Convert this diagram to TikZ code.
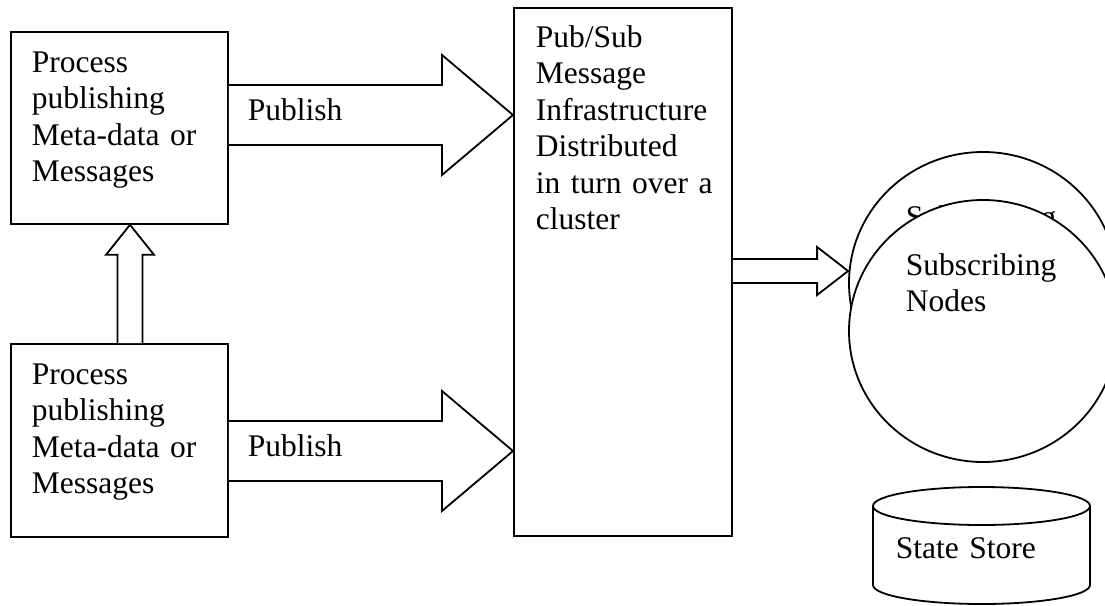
\documentclass[tikz,border=0pt]{standalone}
\usepackage{fontspec}
\setmainfont{Liberation Serif}
\usetikzlibrary{calc,shapes.geometric}

% horizontal block arrow: tail point, tip point, shaft half-width, head half-width, head length
\newcommand\blockarrowh[5]{%
  \draw[arrowline] ($(#1)+(0,-#3)$) -- ($(#2)+(-#5,-#3)$) -- ($(#2)+(-#5,-#4)$) -- (#2)
    -- ($(#2)+(-#5,#4)$) -- ($(#2)+(-#5,#3)$) -- ($(#1)+(0,#3)$);}

\begin{document}
\begin{tikzpicture}[x=1pt,y=-1pt,
  line width=1.8pt,
  box/.style={draw, rectangle, inner sep=0pt, anchor=north west},
  txt/.style={font=\fontsize{31.5}{36.5}\selectfont, inner sep=0pt, anchor=base west,
              text width=#1, align=left},
  txt/.default=200pt,
  arrowline/.style={draw, line join=miter, fill=white},
  disc/.style={draw, fill=white, ellipse, inner sep=0pt,
               minimum width=268pt, minimum height=262pt}]

\useasboundingbox (0,0) rectangle (1105,605);
\fill[white] (0,0) rectangle (1105,605);
\clip (0,0) rectangle (1105,605);

% publishers
\node[box, minimum width=217pt, minimum height=192pt] (pubA) at (10,31) {};
\node[txt=190pt] (pubAtext) at (31,72) {Process\\publishing\\Meta-data or\\Messages};
\node[box, minimum width=217pt, minimum height=193pt] (pubB) at (10,343) {};
\node[txt=190pt] (pubBtext) at (31,384) {Process\\publishing\\Meta-data or\\Messages};

% messaging infrastructure
\node[box, minimum width=218pt, minimum height=528pt] (hub) at (513,7) {};
\node[txt=195pt] (hubtext) at (535,47)
  {Pub/Sub\\Message\\Infrastructure\\Distributed\\in turn over a\\cluster};

% subscribers
\node[disc] (subback) at (983,283) {};
\node[txt=190pt] (subbacktext) at (905,227) {Subscribing\\Nodes};
\node[disc] (subfront) at (983,331) {};
\node[txt=190pt] (subfronttext) at (905,275) {Subscribing\\Nodes};

% state store cylinder
\node[inner sep=0pt, minimum width=217pt, minimum height=118pt, anchor=north west] (store) at (873,487) {};
\draw (store.north west) ++(0,19) -- (873,585)
  arc[start angle=180, end angle=0, x radius=108.5, y radius=19] -- (1090,506);
\draw (981.5,506) ellipse[x radius=108.5, y radius=19];
\node[txt] (storetext) at (895,558) {State Store};

% publish arrows into the infrastructure
\coordinate (tailA) at (pubA.east |- 0,115);
\coordinate (tipA) at (hub.west |- tailA);
\blockarrowh{tailA}{tipA}{30}{60}{71}
\node[txt] (publishA) at (247,120) {Publish};

\coordinate (tailB) at (pubB.east |- 0,451);
\coordinate (tipB) at (hub.west |- tailB);
\blockarrowh{tailB}{tipB}{30}{60}{71}
\node[txt] (publishB) at (247,456) {Publish};

% delivery arrow to subscribers
\coordinate (tailS) at (hub.east |- 0,271);
\coordinate (tipS) at (subback.west |- tailS);
\blockarrowh{tailS}{tipS}{12}{24}{31}

% upward arrow between the publishers
\coordinate (tailU) at (pubB.north -| 130,0);
\coordinate (tipU) at (pubA.south -| 130,0);
\draw[arrowline] ($(tailU)+(-12.5,0)$) -- ($(tipU)+(-12.5,30)$) -- ($(tipU)+(-24,30)$) -- (tipU)
  -- ($(tipU)+(24,30)$) -- ($(tipU)+(12.5,30)$) -- ($(tailU)+(12.5,0)$);

\end{tikzpicture}
\end{document}
